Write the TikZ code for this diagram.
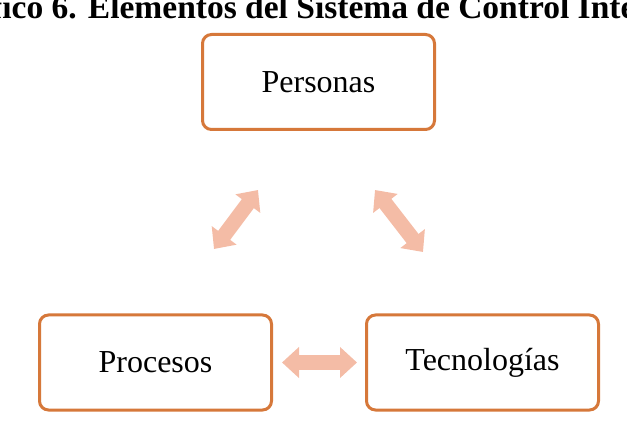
\documentclass[tikz,border=0pt]{standalone}
\usepackage{fontspec}
\setmainfont{Liberation Serif}
\usetikzlibrary{arrows.meta, positioning}

\definecolor{naranja}{RGB}{214,120,58}
\definecolor{salmon}{RGB}{244,188,166}

\begin{document}
\begin{tikzpicture}[
    x=1pt, y=-1pt,
    node distance=92pt,
    caja/.style={draw=naranja, line width=3pt, rounded corners=9pt, fill=white,
                 minimum width=232pt, minimum height=95pt, align=center,
                 font=\fontsize{32}{38}\selectfont},
    flecha/.style={{Triangle[width=30pt,length=17pt]}-{Triangle[width=30pt,length=17pt]},
                   draw=salmon, line width=15pt}
]
    \clip (0,0) rectangle (627,422);
    \node[anchor=base west, font=\fontsize{33.5}{40}\selectfont\bfseries] (titulo) at (-70,19)
        {Gráfico 6. Elementos del Sistema de Control Interno};

    \node[caja] (per) at (318.5,82) {Personas};
    \node[caja] (pro) at (155.5,362.5) {Procesos};
    \node[caja, right=of pro] (tec) {Tecnologías};

    \coordinate (a1) at (214,249);
    \coordinate (a2) at (258,190);
    \coordinate (b1) at (375,190);
    \coordinate (b2) at (423,252);

    \draw[flecha] (a1) -- (a2);
    \draw[flecha] (b1) -- (b2);
    \draw[flecha, shorten <=9pt, shorten >=8pt] (pro) -- (tec);
\end{tikzpicture}
\end{document}
